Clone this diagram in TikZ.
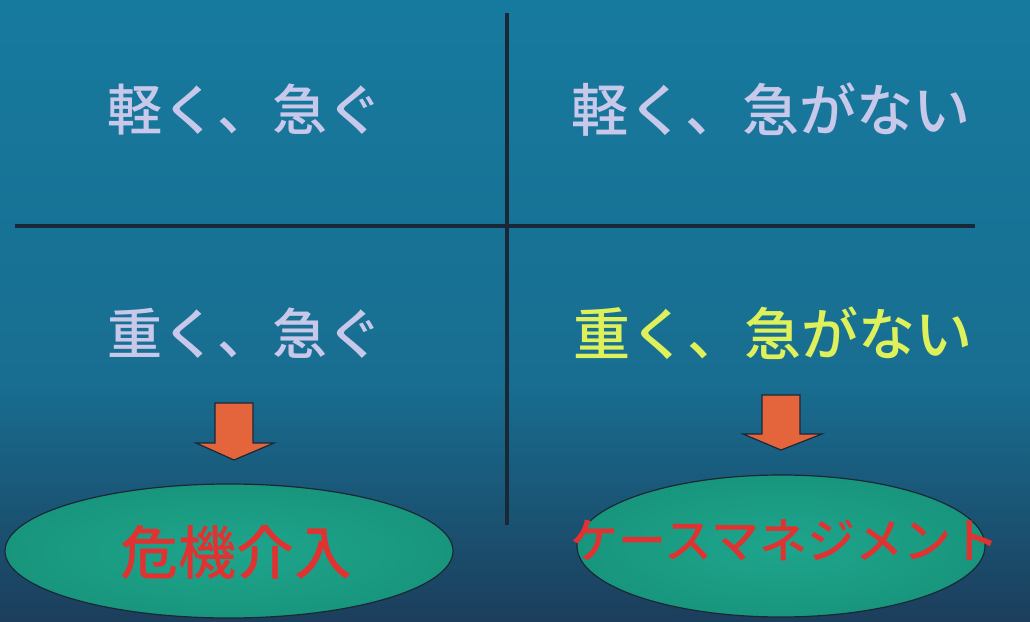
\documentclass[tikz,border=0pt]{standalone}
\usepackage{fontspec}
\newfontfamily\jp{Noto Sans CJK JP Medium}
\usetikzlibrary{shapes.geometric}
\definecolor{bgtop}{RGB}{22,122,158}
\definecolor{bgmid}{RGB}{24,110,145}
\definecolor{bgbot}{RGB}{28,62,92}
\definecolor{lav}{RGB}{200,200,235}
\definecolor{yel}{RGB}{222,240,90}
\definecolor{arr}{RGB}{228,100,60}
\definecolor{ell}{RGB}{24,150,125}
\definecolor{ellc}{RGB}{30,165,140}
\definecolor{redtxt}{RGB}{225,50,50}
\definecolor{linec}{RGB}{25,40,55}
\tikzset{
  quad/.style={font=\jp\fontsize{55}{60}\selectfont, inner sep=0pt, anchor=center},
  divider/.style={draw=linec, line width=4.5pt},
  downarrow/.style={fill=arr, draw=linec, line width=1.2pt, line join=miter},
  oval/.style={ellipse, inner color=ellc, outer color=ell, draw=linec, line width=1.2pt, inner sep=0pt},
  result/.style={font=\jp\fontsize{58}{62}\selectfont, text=redtxt, inner sep=0pt}
}
\begin{document}
\begin{tikzpicture}[x=1pt,y=-1pt]
\useasboundingbox (0,0) rectangle (1030,621);
\shade[top color=bgtop, bottom color=bgmid] (0,0) rectangle (1030,380);
\shade[top color=bgmid, bottom color=bgbot] (0,380) rectangle (1030,621);
% dividers
\coordinate (vt) at (507,13);
\coordinate (vb) at (507,525);
\coordinate (hl) at (15,226);
\coordinate (hr) at (975,226);
\draw[divider] (vt) -- (vb);
\draw[divider] (hl) -- (hr);
% texts
\node[quad, text=lav] (q1) at (245,110) {軽く、急ぐ};
\node[quad, text=lav, font=\jp\fontsize{57}{60}\selectfont] (q2) at (771,110) {軽く、急がない};
\node[quad, text=lav] (q3) at (245,333) {重く、急ぐ};
\node[quad, text=yel, font=\jp\fontsize{57}{60}\selectfont] (q4) at (773,333) {重く、急がない};
% ellipses
\node[oval, minimum width=448pt, minimum height=134pt] (e1) at (229,551) {};
\node[oval, minimum width=408pt, minimum height=142pt] (e2) at (781,546) {};
\node[result] (t1) at (236,552) {危機介入};
\node[result, font=\jp\fontsize{48}{52}\selectfont] (t2) at (785,540) {ケースマネジメント};
% arrows
\draw[downarrow] (215,403) -- (253,403) -- (253,443) -- (274,443) -- (234,460) -- (196,443) -- (215,443) -- cycle;
\draw[downarrow] (762,395) -- (800,395) -- (800,434) -- (822,434) -- (781,450) -- (743,434) -- (762,434) -- cycle;
\end{tikzpicture}
\end{document}
